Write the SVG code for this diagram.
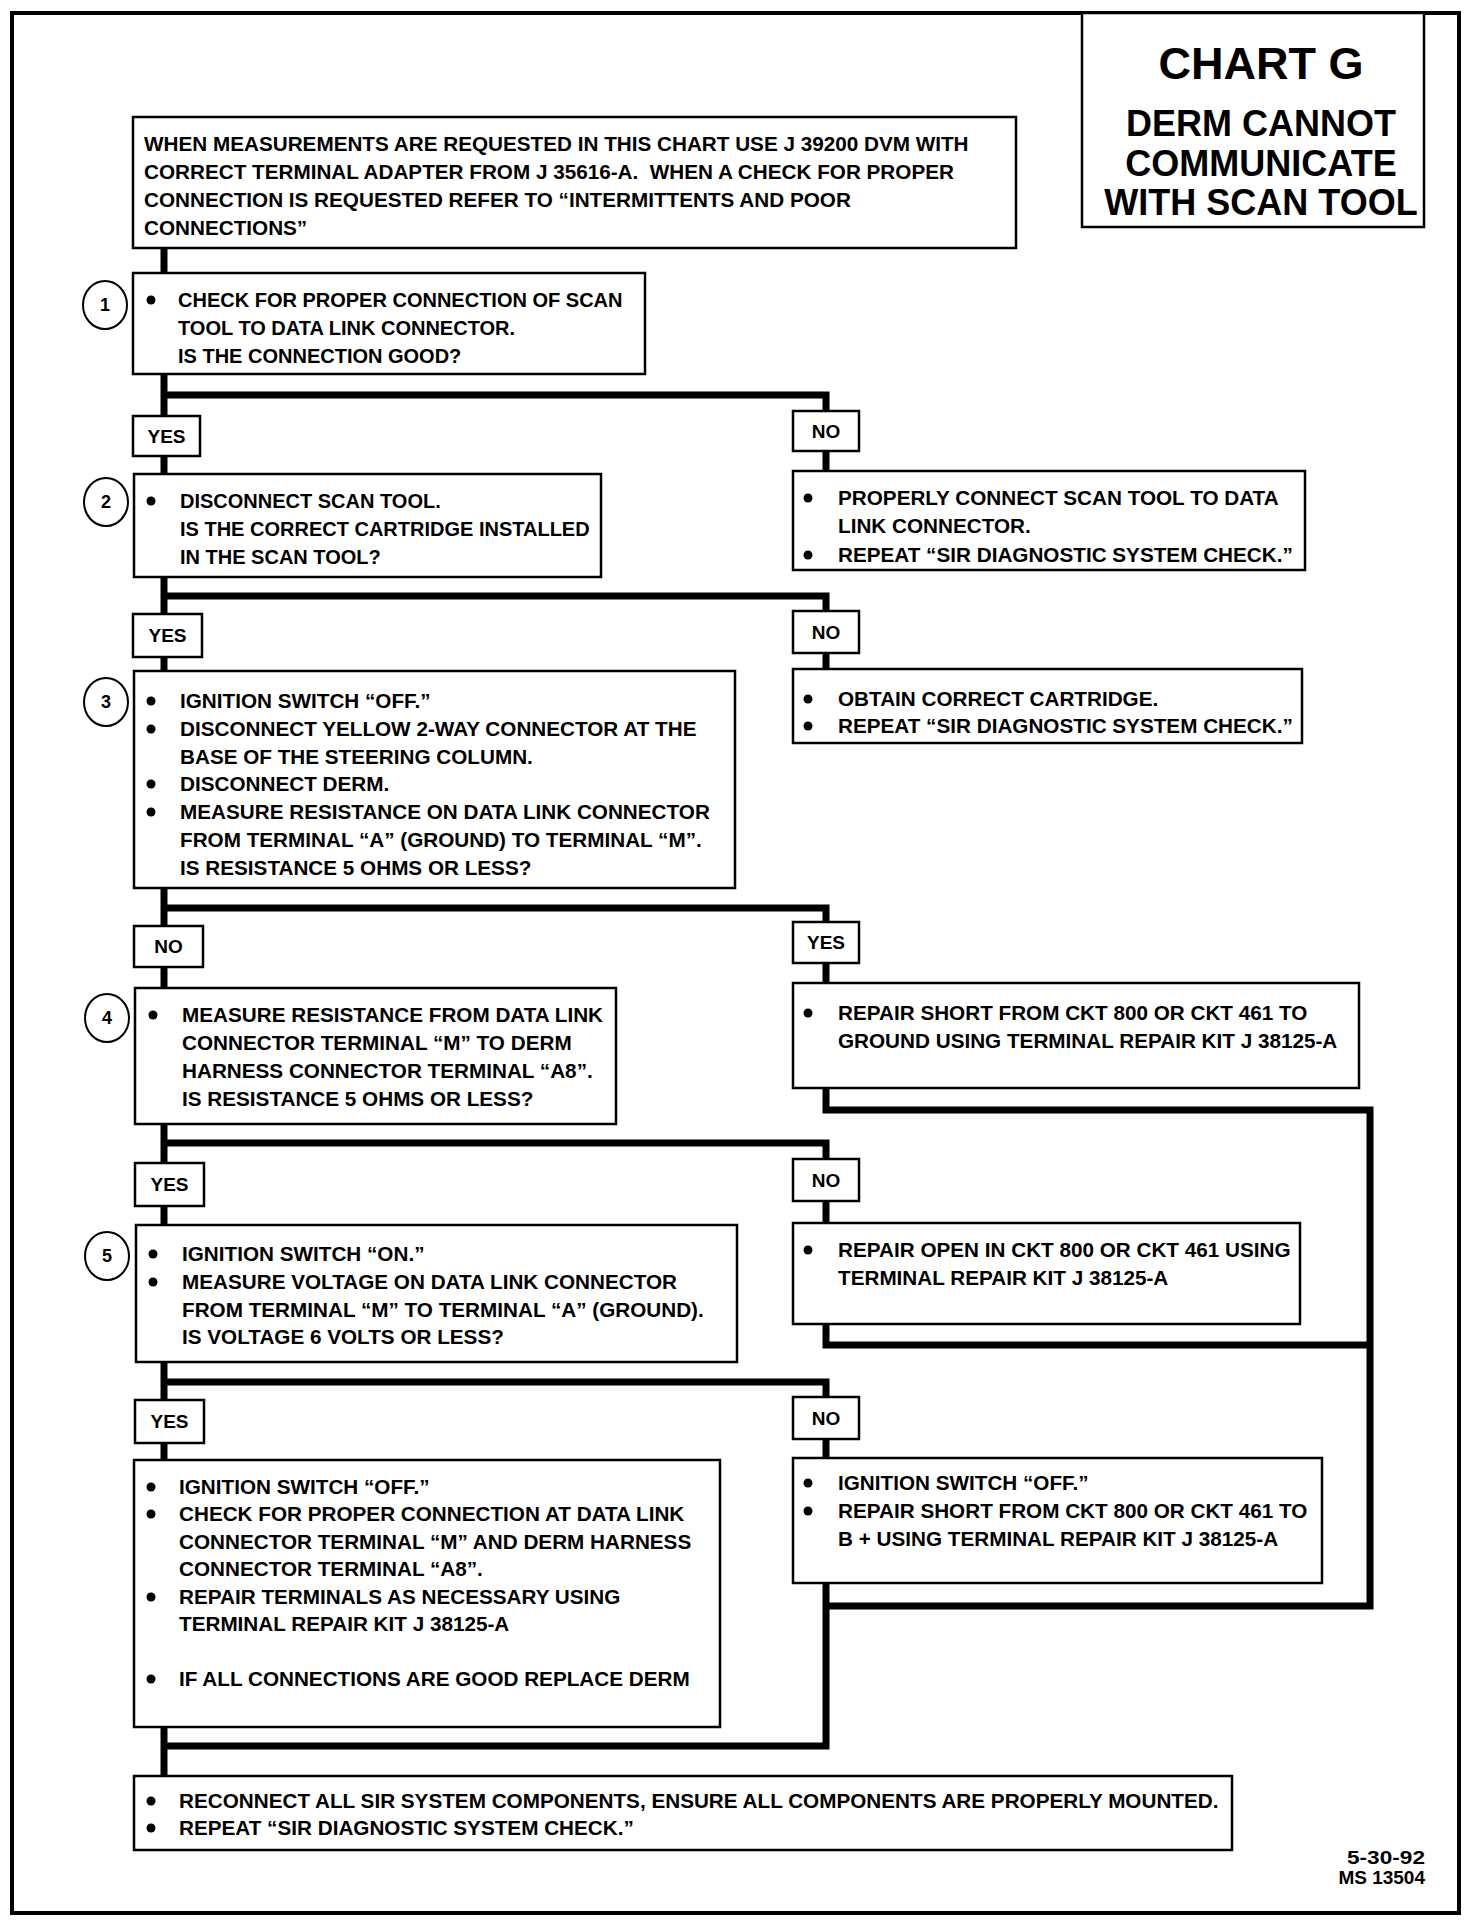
<svg xmlns="http://www.w3.org/2000/svg" width="1472" height="1922" viewBox="0 0 1472 1922">
<style>
.bg{fill:#fff}
.frame{fill:none;stroke:#000;stroke-width:4}
.box{fill:#fff;stroke:#000;stroke-width:2.5}
.num{fill:#fff;stroke:#000;stroke-width:2}
.t{font-family:"Liberation Sans",Arial,sans-serif;font-weight:bold;font-size:20.7px;fill:#000}
.t.s{font-size:20px}
.lbl{font-family:"Liberation Sans",Arial,sans-serif;font-weight:bold;font-size:19px;fill:#000;text-anchor:middle}
.n{font-family:"Liberation Sans",Arial,sans-serif;font-weight:bold;font-size:18px;fill:#000;text-anchor:middle}
.ttl{font-family:"Liberation Sans",Arial,sans-serif;font-weight:bold;fill:#000;text-anchor:middle}
.ft{font-family:"Liberation Sans",Arial,sans-serif;font-weight:bold;font-size:19px;fill:#000;text-anchor:end}
.b{fill:#000}
.c{fill:none;stroke:#000;stroke-width:7;stroke-linejoin:miter;stroke-linecap:butt}
</style>
<rect class="bg" x="0" y="0" width="1472" height="1922"/>
<rect class="frame" x="12" y="13" width="1447" height="1900"/>

<g id="connectors">
<path class="c" d="M164 248V273"/>
<path class="c" d="M164 374V416"/>
<path class="c" d="M164 395H826V411"/>
<path class="c" d="M164 456V474"/>
<path class="c" d="M826 451V471"/>
<path class="c" d="M164 577V614"/>
<path class="c" d="M164 596H826V611"/>
<path class="c" d="M164 657V671"/>
<path class="c" d="M826 653V669"/>
<path class="c" d="M164 888V926"/>
<path class="c" d="M164 908H826V922"/>
<path class="c" d="M164 967V988"/>
<path class="c" d="M826 963V983"/>
<path class="c" d="M164 1124V1163"/>
<path class="c" d="M164 1143H826V1159"/>
<path class="c" d="M164 1206V1225"/>
<path class="c" d="M826 1201V1223"/>
<path class="c" d="M164 1362V1400"/>
<path class="c" d="M164 1382H826V1397"/>
<path class="c" d="M164 1443V1460"/>
<path class="c" d="M826 1439V1458"/>
<path class="c" d="M164 1727V1776"/>
<path class="c" d="M826 1088V1110H1370V1606H826"/>
<path class="c" d="M826 1324V1345H1370"/>
<path class="c" d="M826 1583V1746H164"/>
</g>

<g id="title">
<rect class="box" x="1082" y="13" width="342" height="214"/>
<text class="ttl" x="1261" y="79" font-size="45">CHART G</text>
<text class="ttl" x="1261" y="136" font-size="36">DERM CANNOT</text>
<text class="ttl" x="1261" y="176" font-size="36">COMMUNICATE</text>
<text class="ttl" x="1261" y="215" font-size="36">WITH SCAN TOOL</text>
</g>

<g id="intro">
<rect class="box" x="133" y="117" width="883" height="131"/>
<text class="t" x="144" y="151">WHEN MEASUREMENTS ARE REQUESTED IN THIS CHART USE J 39200 DVM WITH</text>
<text class="t" x="144" y="179">CORRECT TERMINAL ADAPTER FROM J 35616-A.&#160; WHEN A CHECK FOR PROPER</text>
<text class="t" x="144" y="207">CONNECTION IS REQUESTED REFER TO “INTERMITTENTS AND POOR</text>
<text class="t" x="144" y="235">CONNECTIONS”</text>
</g>

<g id="step1">
<ellipse class="num" cx="105" cy="305" rx="22" ry="24"/>
<text class="n" x="105" y="311">1</text>
<rect class="box" x="133" y="273" width="512" height="101"/>
<circle class="b" cx="151" cy="300" r="4.5"/>
<text class="t s" x="178" y="307">CHECK FOR PROPER CONNECTION OF SCAN</text>
<text class="t s" x="178" y="335">TOOL TO DATA LINK CONNECTOR.</text>
<text class="t s" x="178" y="363">IS THE CONNECTION GOOD?</text>
</g>

<g id="yes1"><rect class="box" x="133" y="416" width="67" height="40"/><text class="lbl" x="166.5" y="443">YES</text></g>
<g id="no1"><rect class="box" x="793" y="411" width="66" height="40"/><text class="lbl" x="826" y="438">NO</text></g>

<g id="step2">
<ellipse class="num" cx="106" cy="502" rx="22" ry="24"/>
<text class="n" x="106" y="508">2</text>
<rect class="box" x="134" y="474" width="467" height="103"/>
<circle class="b" cx="151" cy="501" r="4.5"/>
<text class="t s" x="180" y="508">DISCONNECT SCAN TOOL.</text>
<text class="t s" x="180" y="536">IS THE CORRECT CARTRIDGE INSTALLED</text>
<text class="t s" x="180" y="564">IN THE SCAN TOOL?</text>
</g>

<g id="connect-tool">
<rect class="box" x="793" y="471" width="512" height="99"/>
<circle class="b" cx="808" cy="498" r="4.5"/>
<text class="t" x="838" y="505">PROPERLY CONNECT SCAN TOOL TO DATA</text>
<text class="t" x="838" y="533">LINK CONNECTOR.</text>
<circle class="b" cx="808" cy="555" r="4.5"/>
<text class="t" x="838" y="562">REPEAT “SIR DIAGNOSTIC SYSTEM CHECK.”</text>
</g>

<g id="yes2"><rect class="box" x="133" y="614" width="69" height="43"/><text class="lbl" x="167.5" y="642">YES</text></g>
<g id="no2"><rect class="box" x="793" y="611" width="66" height="42"/><text class="lbl" x="826" y="639">NO</text></g>

<g id="step3">
<ellipse class="num" cx="106" cy="702" rx="22" ry="24"/>
<text class="n" x="106" y="708">3</text>
<rect class="box" x="134" y="671" width="601" height="217"/>
<circle class="b" cx="151" cy="701" r="4.5"/>
<text class="t" x="180" y="708">IGNITION SWITCH “OFF.”</text>
<circle class="b" cx="151" cy="729" r="4.5"/>
<text class="t" x="180" y="736">DISCONNECT YELLOW 2-WAY CONNECTOR AT THE</text>
<text class="t" x="180" y="764">BASE OF THE STEERING COLUMN.</text>
<circle class="b" cx="151" cy="784" r="4.5"/>
<text class="t" x="180" y="791">DISCONNECT DERM.</text>
<circle class="b" cx="151" cy="812" r="4.5"/>
<text class="t" x="180" y="819">MEASURE RESISTANCE ON DATA LINK CONNECTOR</text>
<text class="t" x="180" y="847">FROM TERMINAL “A” (GROUND) TO TERMINAL “M”.</text>
<text class="t" x="180" y="875">IS RESISTANCE 5 OHMS OR LESS?</text>
</g>

<g id="obtain-cartridge">
<rect class="box" x="793" y="669" width="509" height="74"/>
<circle class="b" cx="808" cy="699" r="4.5"/>
<text class="t" x="838" y="706">OBTAIN CORRECT CARTRIDGE.</text>
<circle class="b" cx="808" cy="726" r="4.5"/>
<text class="t" x="838" y="733">REPEAT “SIR DIAGNOSTIC SYSTEM CHECK.”</text>
</g>

<g id="no3"><rect class="box" x="134" y="926" width="69" height="41"/><text class="lbl" x="168.5" y="953">NO</text></g>
<g id="yes3"><rect class="box" x="793" y="922" width="66" height="41"/><text class="lbl" x="826" y="949">YES</text></g>

<g id="step4">
<ellipse class="num" cx="107" cy="1018" rx="22" ry="24"/>
<text class="n" x="107" y="1024">4</text>
<rect class="box" x="135" y="988" width="481" height="136"/>
<circle class="b" cx="153" cy="1015" r="4.5"/>
<text class="t" x="182" y="1022">MEASURE RESISTANCE FROM DATA LINK</text>
<text class="t" x="182" y="1050">CONNECTOR TERMINAL “M” TO DERM</text>
<text class="t" x="182" y="1078">HARNESS CONNECTOR TERMINAL “A8”.</text>
<text class="t" x="182" y="1106">IS RESISTANCE 5 OHMS OR LESS?</text>
</g>

<g id="repair-ground">
<rect class="box" x="793" y="983" width="566" height="105"/>
<circle class="b" cx="808" cy="1013" r="4.5"/>
<text class="t" x="838" y="1020">REPAIR SHORT FROM CKT 800 OR CKT 461 TO</text>
<text class="t" x="838" y="1048">GROUND USING TERMINAL REPAIR KIT J 38125-A</text>
</g>

<g id="yes4"><rect class="box" x="135" y="1163" width="69" height="43"/><text class="lbl" x="169.5" y="1191">YES</text></g>
<g id="no4"><rect class="box" x="793" y="1159" width="66" height="42"/><text class="lbl" x="826" y="1187">NO</text></g>

<g id="step5">
<ellipse class="num" cx="107" cy="1256" rx="22" ry="24"/>
<text class="n" x="107" y="1262">5</text>
<rect class="box" x="136" y="1225" width="601" height="137"/>
<circle class="b" cx="153" cy="1254" r="4.5"/>
<text class="t" x="182" y="1261">IGNITION SWITCH “ON.”</text>
<circle class="b" cx="153" cy="1282" r="4.5"/>
<text class="t" x="182" y="1289">MEASURE VOLTAGE ON DATA LINK CONNECTOR</text>
<text class="t" x="182" y="1317">FROM TERMINAL “M” TO TERMINAL “A” (GROUND).</text>
<text class="t" x="182" y="1344">IS VOLTAGE 6 VOLTS OR LESS?</text>
</g>

<g id="repair-open">
<rect class="box" x="793" y="1223" width="507" height="101"/>
<circle class="b" cx="808" cy="1250" r="4.5"/>
<text class="t" x="838" y="1257">REPAIR OPEN IN CKT 800 OR CKT 461 USING</text>
<text class="t" x="838" y="1285">TERMINAL REPAIR KIT J 38125-A</text>
</g>

<g id="yes5"><rect class="box" x="135" y="1400" width="69" height="43"/><text class="lbl" x="169.5" y="1428">YES</text></g>
<g id="no5"><rect class="box" x="793" y="1397" width="66" height="42"/><text class="lbl" x="826" y="1425">NO</text></g>

<g id="check-connection">
<rect class="box" x="134" y="1460" width="586" height="267"/>
<circle class="b" cx="151" cy="1487" r="4.5"/>
<text class="t" x="179" y="1494">IGNITION SWITCH “OFF.”</text>
<circle class="b" cx="151" cy="1514" r="4.5"/>
<text class="t" x="179" y="1521">CHECK FOR PROPER CONNECTION AT DATA LINK</text>
<text class="t" x="179" y="1549">CONNECTOR TERMINAL “M” AND DERM HARNESS</text>
<text class="t" x="179" y="1576">CONNECTOR TERMINAL “A8”.</text>
<circle class="b" cx="151" cy="1597" r="4.5"/>
<text class="t" x="179" y="1604">REPAIR TERMINALS AS NECESSARY USING</text>
<text class="t" x="179" y="1631">TERMINAL REPAIR KIT J 38125-A</text>
<circle class="b" cx="151" cy="1679" r="4.5"/>
<text class="t" x="179" y="1686">IF ALL CONNECTIONS ARE GOOD REPLACE DERM</text>
</g>

<g id="repair-bplus">
<rect class="box" x="793" y="1458" width="529" height="125"/>
<circle class="b" cx="808" cy="1483" r="4.5"/>
<text class="t" x="838" y="1490">IGNITION SWITCH “OFF.”</text>
<circle class="b" cx="808" cy="1511" r="4.5"/>
<text class="t" x="838" y="1518">REPAIR SHORT FROM CKT 800 OR CKT 461 TO</text>
<text class="t" x="838" y="1546">B + USING TERMINAL REPAIR KIT J 38125-A</text>
</g>

<g id="reconnect">
<rect class="box" x="134" y="1776" width="1098" height="74"/>
<circle class="b" cx="151" cy="1801" r="4.5"/>
<text class="t" x="179" y="1808">RECONNECT ALL SIR SYSTEM COMPONENTS, ENSURE ALL COMPONENTS ARE PROPERLY MOUNTED.</text>
<circle class="b" cx="151" cy="1828" r="4.5"/>
<text class="t" x="179" y="1835">REPEAT “SIR DIAGNOSTIC SYSTEM CHECK.”</text>
</g>

<g id="footer">
<text class="ft" x="1425" y="1864" textLength="78" lengthAdjust="spacingAndGlyphs">5-30-92</text>
<text class="ft" x="1425" y="1884">MS 13504</text>
</g>
</svg>
